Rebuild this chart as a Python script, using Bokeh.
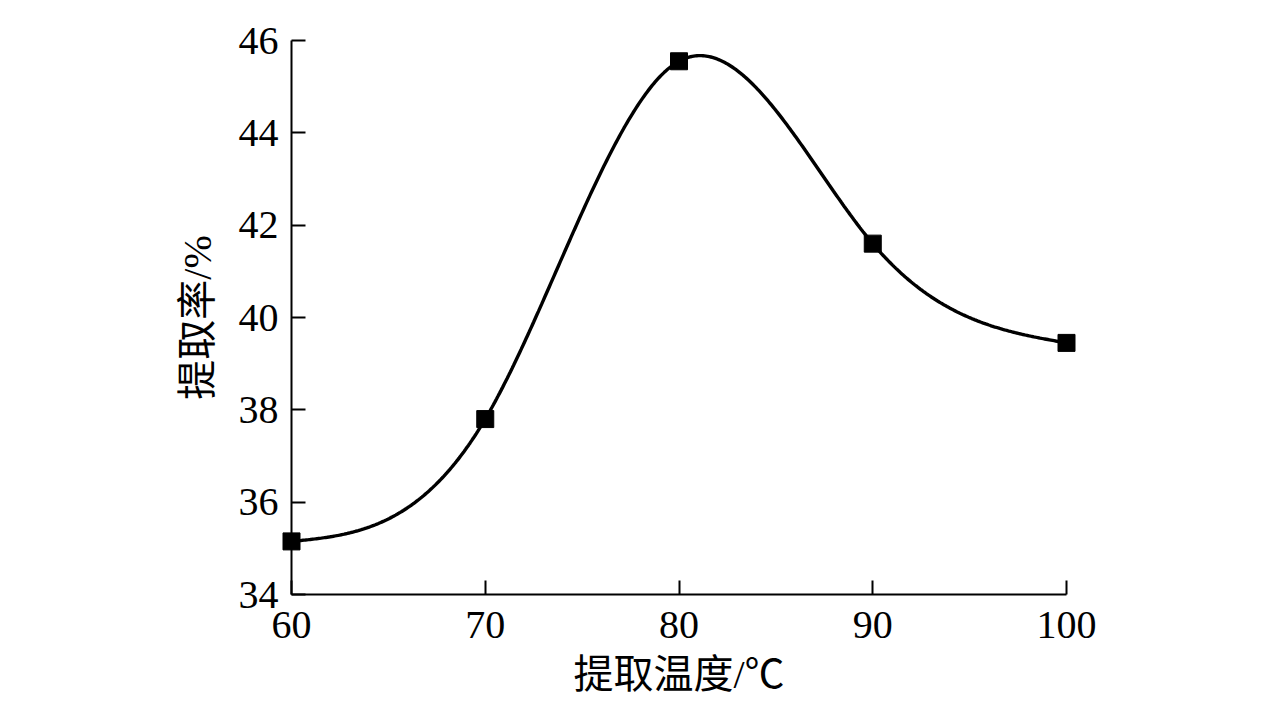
import numpy as np
from bokeh.plotting import figure
from bokeh.models import FixedTicker, Range1d, LinearAxis
from bokeh.embed import file_html
from bokeh.resources import INLINE

# data
temperature = [60, 70, 80, 90, 100]
extraction_rate = [35.15, 37.8, 45.55, 41.6, 39.45]
x_ticks = [60, 70, 80, 90, 100]
y_ticks = [34, 36, 38, 40, 42, 44, 46]
x_label = "提取温度/℃"
y_label = "提取率/%"

SERIF = "Liberation Serif"
MIXED = "Liberation Serif, Noto Sans CJK SC"

W, H = 1276, 706
# pixel placement of the axes box inside the canvas
X0_PX, X1_PX = 291.0, 1066.0   # x = 60 and x = 100
Y0_PX, Y1_PX = 594.0, 40.0     # y = 34 and y = 46


def natural_cubic_spline(xs, ys, n=500):
    xs = np.asarray(xs, float)
    ys = np.asarray(ys, float)
    k = len(xs)
    h = np.diff(xs)
    A = np.zeros((k, k))
    b = np.zeros(k)
    A[0, 0] = 1
    A[-1, -1] = 1
    for i in range(1, k - 1):
        A[i, i - 1] = h[i - 1]
        A[i, i] = 2 * (h[i - 1] + h[i])
        A[i, i + 1] = h[i]
        b[i] = 6 * ((ys[i + 1] - ys[i]) / h[i] - (ys[i] - ys[i - 1]) / h[i - 1])
    M = np.linalg.solve(A, b)
    xx = np.linspace(xs[0], xs[-1], n)
    idx = np.clip(np.searchsorted(xs, xx, side="right") - 1, 0, k - 2)
    x0 = xs[idx]
    x1 = xs[idx + 1]
    hh = x1 - x0
    t0 = x1 - xx
    t1 = xx - x0
    yy = ((M[idx] * t0 ** 3 + M[idx + 1] * t1 ** 3) / (6 * hh)
          + (ys[idx] / hh - M[idx] * hh / 6) * t0
          + (ys[idx + 1] / hh - M[idx + 1] * hh / 6) * t1)
    return xx, yy


curve_x, curve_y = natural_cubic_spline(temperature, extraction_rate)

# ranges so that the frame covers the whole canvas
xmin, xmax = x_ticks[0], x_ticks[-1]
ymin, ymax = y_ticks[0], y_ticks[-1]
sx = (X1_PX - X0_PX) / (xmax - xmin)
sy = (Y0_PX - Y1_PX) / (ymax - ymin)
x_start = xmin - X0_PX / sx
x_end = xmin + (W - X0_PX) / sx
y_end = ymax + Y1_PX / sy
y_start = ymax - (H - Y1_PX) / sy

p = figure(width=W, height=H,
           x_range=Range1d(x_start, x_end), y_range=Range1d(y_start, y_end),
           x_axis_location=None, y_axis_location=None,
           output_backend="svg", toolbar_location=None, min_border=0)
p.outline_line_color = None
p.grid.visible = False
p.background_fill_color = "white"
p.border_fill_color = "white"

p.line(curve_x, curve_y, line_width=3.4, line_color="black")
p.scatter(temperature, extraction_rate, marker="square", size=17,
          fill_color="black", line_color="black")


def style(ax):
    ax.axis_line_width = 2
    ax.axis_line_color = "black"
    ax.major_tick_line_width = 2
    ax.major_tick_line_color = "black"
    ax.major_tick_in = 14
    ax.major_tick_out = 0
    ax.minor_tick_in = 0
    ax.minor_tick_out = 0
    ax.minor_tick_line_color = None
    ax.major_label_text_font = SERIF
    ax.major_label_text_font_size = "40px"
    ax.major_label_text_color = "black"
    ax.axis_label_text_font = MIXED
    ax.axis_label_text_font_size = "40px"
    ax.axis_label_text_font_style = "normal"
    ax.axis_label_text_color = "black"


xa = LinearAxis(fixed_location=ymin, bounds=(xmin, xmax),
                ticker=FixedTicker(ticks=x_ticks), axis_label=x_label)
style(xa)
xa.major_label_standoff = 17
xa.axis_label_standoff = 11
p.add_layout(xa, "below")

ya = LinearAxis(fixed_location=xmin, bounds=(ymin, ymax),
                ticker=FixedTicker(ticks=y_ticks), axis_label=y_label)
style(ya)
ya.major_label_standoff = 13
ya.axis_label_standoff = 16
p.add_layout(ya, "left")

open("out.html", "w").write(file_html(p, INLINE))
